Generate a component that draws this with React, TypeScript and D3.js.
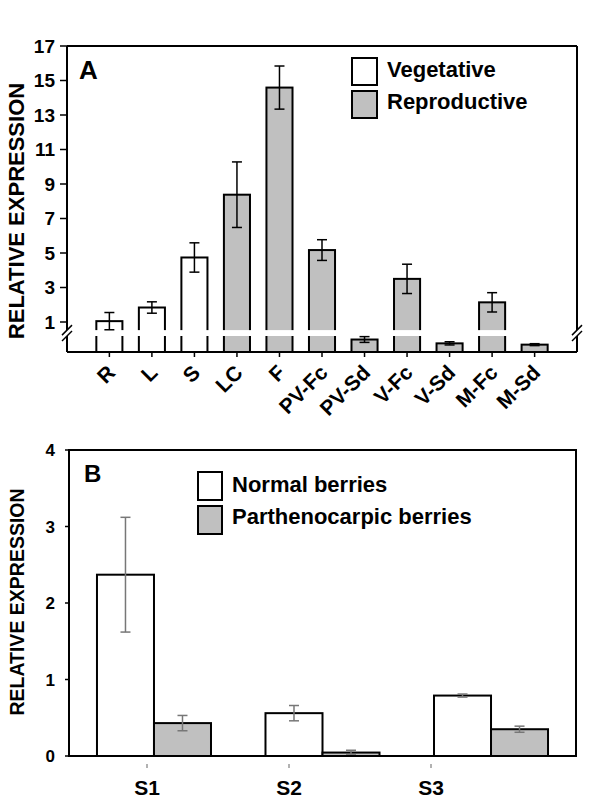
import React from "react";
import * as d3 from "d3";

// ---------- Panel A data ----------
const categoriesA = ["R", "L", "S", "LC", "F", "PV-Fc", "PV-Sd", "V-Fc", "V-Sd", "M-Fc", "M-Sd"];
const groupA = ["Vegetative", "Vegetative", "Vegetative", "Reproductive", "Reproductive", "Reproductive", "Reproductive", "Reproductive", "Reproductive", "Reproductive", "Reproductive"];
const valuesA = [1.05, 1.84, 4.74, 8.38, 14.59, 5.17, 0.39, 3.5, 0.27, 2.14, 0.23];
const errorsA = [0.5, 0.33, 0.85, 1.9, 1.25, 0.6, 0.09, 0.85, 0.05, 0.56, 0.03];
const ticksA = [1, 3, 5, 7, 9, 11, 13, 15, 17];
const legendA = ["Vegetative", "Reproductive"];

// ---------- Panel B data ----------
const stagesB = ["S1", "S2", "S3"];
const seriesB = ["Normal berries", "Parthenocarpic berries"];
const normalB = [2.37, 0.56, 0.79];
const normalErrB = [0.75, 0.1, 0.02];
const parthB = [0.43, 0.045, 0.35];
const parthErrB = [0.1, 0.03, 0.04];
const ticksB = [0, 1, 2, 3, 4];

const FONT = "'Liberation Sans', Arial, sans-serif";
const GRAY = "#c0c0c0";

export default function App() {
  // ---- Panel A geometry ----
  const aLeft = 67, aRight = 577, aTop = 46, aBottom = 352;
  const xA = d3.scaleBand<string>().domain(categoriesA).range([aLeft, aRight]).paddingInner(0.387).paddingOuter(0.69);
  const yUpper = d3.scaleLinear().domain([1, 17]).range([322, aTop]);
  const yLower = d3.scaleLinear().domain([0, 0.5]).range([aBottom, 336]);
  const yA = (v: number) => (v <= 0.5 ? yLower(v) : yUpper(v));
  const gapTop = yUpper(0.53);
  const gapBottom = yLower(0.5);
  const bwA = xA.bandwidth();
  const colorA = d3.scaleOrdinal<string, string>().domain(legendA).range(["#ffffff", GRAY]);

  // ---- Panel B geometry ----
  const bLeft = 69, bRight = 576, bTop = 450, bBottom = 756;
  const yB = d3.scaleLinear().domain([0, 4]).range([bBottom, bTop]);
  const xB = d3.scaleBand<string>().domain(stagesB).range([bLeft, bRight]).paddingInner(0.3234).paddingOuter(0.166);
  const xSub = d3.scaleBand<string>().domain(seriesB).range([0, xB.bandwidth()]);
  const tickPosB = d3.scalePoint<string>().domain(stagesB).range([147, 431]);
  const colorB = d3.scaleOrdinal<string, string>().domain(seriesB).range(["#ffffff", GRAY]);
  const barsB = stagesB.flatMap((s, i) => [
    { stage: s, series: seriesB[0], v: normalB[i], e: normalErrB[i] },
    { stage: s, series: seriesB[1], v: parthB[i], e: parthErrB[i] },
  ]);

  const slash = (x: number, y: number, key: string) => (
    <line key={key} x1={x - 5} y1={y + 5} x2={x + 5} y2={y - 5} stroke="#000" strokeWidth={1.5} />
  );

  return (
    <svg width={600} height={804} style={{ position: "absolute", left: 0, top: 0, background: "#fff" }} fontFamily={FONT}>
      <rect x={0} y={0} width={600} height={804} fill="#fff" />
      {/* ===== Panel A ===== */}
      <g>
        {categoriesA.map((c, i) => {
          const x = xA(c)!;
          const y = yA(valuesA[i]);
          return (
            <rect key={c} x={x} y={y} width={bwA} height={aBottom - y} fill={colorA(groupA[i])} stroke="#000" strokeWidth={2} />
          );
        })}
        {/* break gap across tall bars */}
        {categoriesA.map((c, i) =>
          valuesA[i] > 1 ? (
            <rect key={"gap" + c} x={xA(c)! - 2} y={gapTop} width={bwA + 4} height={gapBottom - gapTop} fill="#fff" />
          ) : null
        )}
        {/* error bars */}
        {categoriesA.map((c, i) => {
          const cx = xA(c)! + bwA / 2;
          const hi = yA(valuesA[i] + errorsA[i]);
          const lo = yA(Math.max(0, valuesA[i] - errorsA[i]));
          return (
            <g key={"e" + c} stroke="#000" strokeWidth={1.5}>
              <line x1={cx} x2={cx} y1={hi} y2={lo} />
              <line x1={cx - 5} x2={cx + 5} y1={hi} y2={hi} />
              <line x1={cx - 5} x2={cx + 5} y1={lo} y2={lo} />
            </g>
          );
        })}
        {/* frame */}
        <g stroke="#000" strokeWidth={2}>
          <line x1={aLeft} x2={aRight} y1={aTop} y2={aTop} />
          <line x1={aLeft} x2={aRight} y1={aBottom} y2={aBottom} />
          <line x1={aLeft} x2={aLeft} y1={aTop} y2={gapTop} />
          <line x1={aLeft} x2={aLeft} y1={gapBottom} y2={aBottom} />
          <line x1={aRight} x2={aRight} y1={aTop} y2={gapTop} />
          <line x1={aRight} x2={aRight} y1={gapBottom} y2={aBottom} />
        </g>
        {slash(aLeft, gapTop, "s1")}
        {slash(aLeft, gapBottom, "s2")}
        {slash(aRight, gapTop, "s3")}
        {slash(aRight, gapBottom, "s4")}
        {/* y ticks */}
        {ticksA.map((t) => (
          <g key={"ty" + t}>
            <line x1={aLeft - 7} x2={aLeft} y1={yUpper(t)} y2={yUpper(t)} stroke="#000" strokeWidth={1.5} />
            <text x={55} y={yUpper(t)} dy="0.36em" textAnchor="end" fontSize={19} fontWeight="bold">{t}</text>
          </g>
        ))}
        {/* x ticks and labels */}
        {categoriesA.map((c) => {
          const cx = xA(c)! + bwA / 2;
          return (
            <g key={"tx" + c}>
              <line x1={cx} x2={cx} y1={aBottom} y2={aBottom + 5} stroke="#000" strokeWidth={1.5} />
              <text transform={`translate(${cx + 7},${374}) rotate(-45)`} textAnchor="end" fontSize={21} fontWeight="bold">{c}</text>
            </g>
          );
        })}
        <text transform={`translate(24,211) rotate(-90)`} textAnchor="middle" fontSize={22} fontWeight="bold">RELATIVE EXPRESSION</text>
        <text x={79} y={79} fontSize={26} fontWeight="bold">A</text>
        {/* legend */}
        {legendA.map((l, i) => (
          <g key={"la" + l}>
            <rect x={352} y={58 + i * 33} width={25} height={27} fill={colorA(l)} stroke="#000" strokeWidth={2} />
            <text x={387} y={77 + i * 32} fontSize={22} fontWeight="bold">{l}</text>
          </g>
        ))}
      </g>

      {/* ===== Panel B ===== */}
      <g>
        {barsB.map((b) => {
          const x = xB(b.stage)! + xSub(b.series)!;
          const y = yB(b.v);
          return (
            <rect key={b.stage + b.series} x={x} y={y} width={xSub.bandwidth()} height={bBottom - y} fill={colorB(b.series)} stroke="#000" strokeWidth={2} />
          );
        })}
        {barsB.map((b) => {
          const cx = xB(b.stage)! + xSub(b.series)! + xSub.bandwidth() / 2;
          const hi = yB(b.v + b.e);
          const lo = yB(Math.max(0, b.v - b.e));
          return (
            <g key={"eb" + b.stage + b.series} stroke="#777" strokeWidth={1.5}>
              <line x1={cx} x2={cx} y1={hi} y2={lo} />
              <line x1={cx - 5} x2={cx + 5} y1={hi} y2={hi} />
              <line x1={cx - 5} x2={cx + 5} y1={lo} y2={lo} />
            </g>
          );
        })}
        <rect x={bLeft} y={bTop} width={bRight - bLeft} height={bBottom - bTop} fill="none" stroke="#000" strokeWidth={2} />
        {ticksB.map((t) => (
          <g key={"tyb" + t}>
            <line x1={bLeft - 4} x2={bLeft} y1={yB(t)} y2={yB(t)} stroke="#000" strokeWidth={1.5} />
            <text x={55} y={yB(t)} dy="0.36em" textAnchor="end" fontSize={17} fontWeight="bold">{t}</text>
          </g>
        ))}
        {stagesB.map((s) => {
          const x = tickPosB(s)!;
          return (
            <g key={"txb" + s}>
              <line x1={x} x2={x} y1={bBottom + 8} y2={bBottom + 12} stroke="#999" strokeWidth={1.5} />
              <text x={x} y={795} textAnchor="middle" fontSize={21} fontWeight="bold">{s}</text>
            </g>
          );
        })}
        <text transform={`translate(24,602) rotate(-90)`} textAnchor="middle" fontSize={19.5} fontWeight="bold">RELATIVE EXPRESSION</text>
        <text x={84} y={482} fontSize={24} fontWeight="bold">B</text>
        {seriesB.map((l, i) => (
          <g key={"lb" + l}>
            <rect x={198} y={472 + i * 34} width={24} height={28} fill={colorB(l)} stroke="#000" strokeWidth={2} />
            <text x={232} y={492 + i * 32} fontSize={22} fontWeight="bold">{l}</text>
          </g>
        ))}
      </g>
    </svg>
  );
}
